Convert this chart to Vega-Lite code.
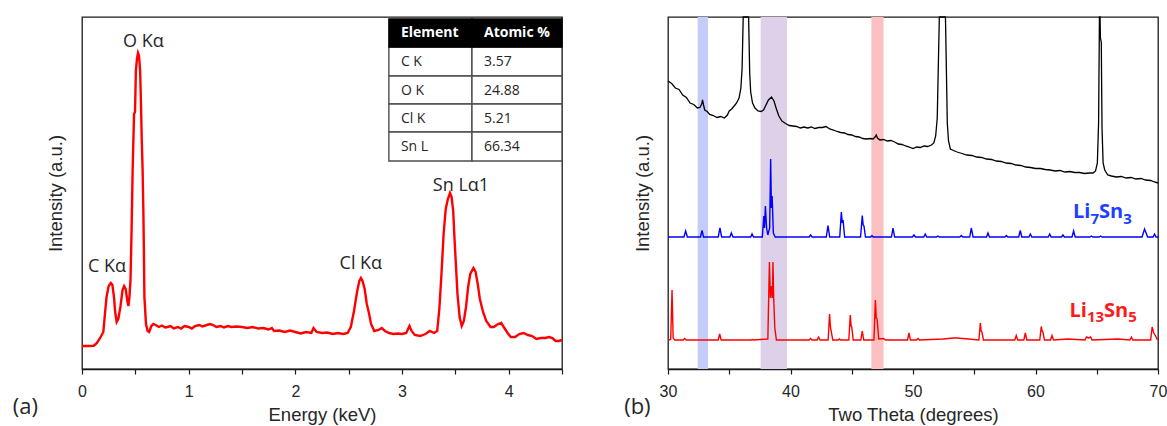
{
  "$schema": "https://vega.github.io/schema/vega-lite/v6.json",
  "autosize": {"type": "pad"},
  "padding": {"left": 12, "top": 13, "right": 0, "bottom": 0},
  "background": "white",
  "bounds": "flush",
  "spacing": 106,
  "config": {
    "view": {"stroke": "#1a1a1a", "strokeWidth": 1.3},
    "axis": {
      "labelFont": "Liberation Sans", "titleFont": "Liberation Sans",
      "labelFontSize": 16, "titleFontSize": 18.5, "titleFontWeight": "normal",
      "labelColor": "#262626", "titleColor": "#262626", "grid": false,
      "tickColor": "#1a1a1a", "domainColor": "#1a1a1a", "domainWidth": 1.3,
      "tickSize": 5, "tickWidth": 1.2
    }
  },
  "datasets": {
    "eds": [
      {"e":0,"i":23},{"e":0.05,"i":23},{"e":0.11,"i":23.3},{"e":0.14,"i":26},{"e":0.17,"i":31},{"e":0.2,"i":37},
      {"e":0.215,"i":55},{"e":0.23,"i":72},{"e":0.25,"i":83},{"e":0.27,"i":86},{"e":0.285,"i":84},{"e":0.3,"i":72},
      {"e":0.31,"i":58},{"e":0.325,"i":47},{"e":0.34,"i":50},{"e":0.36,"i":62},{"e":0.38,"i":79},{"e":0.395,"i":83},
      {"e":0.41,"i":80},{"e":0.425,"i":68},{"e":0.435,"i":63},{"e":0.445,"i":72},{"e":0.455,"i":90},{"e":0.465,"i":140},
      {"e":0.475,"i":200},{"e":0.488,"i":255},{"e":0.497,"i":257},{"e":0.505,"i":298},{"e":0.515,"i":310},{"e":0.525,"i":316},
      {"e":0.535,"i":313},{"e":0.545,"i":298},{"e":0.553,"i":265},{"e":0.56,"i":230},{"e":0.568,"i":200},{"e":0.575,"i":160},
      {"e":0.58,"i":120},{"e":0.585,"i":72},{"e":0.6,"i":45},{"e":0.615,"i":38},{"e":0.63,"i":37},{"e":0.65,"i":43},
      {"e":0.67,"i":45},{"e":0.69,"i":44},{"e":0.72,"i":42},{"e":0.75,"i":43.5},{"e":0.78,"i":41.5},{"e":0.8,"i":42},
      {"e":0.83,"i":43},{"e":0.86,"i":40.5},{"e":0.9,"i":42},{"e":0.93,"i":40.5},{"e":0.96,"i":43},{"e":1.0,"i":42},
      {"e":1.03,"i":40.5},{"e":1.06,"i":43},{"e":1.1,"i":44},{"e":1.13,"i":42.5},{"e":1.17,"i":44},{"e":1.2,"i":45},
      {"e":1.23,"i":44},{"e":1.26,"i":42},{"e":1.3,"i":43},{"e":1.33,"i":41.5},{"e":1.37,"i":43},{"e":1.4,"i":42},
      {"e":1.45,"i":42.5},{"e":1.5,"i":42},{"e":1.55,"i":41},{"e":1.6,"i":42},{"e":1.65,"i":40.5},{"e":1.7,"i":41},
      {"e":1.75,"i":39.5},{"e":1.78,"i":41},{"e":1.8,"i":38},{"e":1.85,"i":38.5},{"e":1.9,"i":37},{"e":1.95,"i":38.5},
      {"e":2.0,"i":37},{"e":2.05,"i":35.5},{"e":2.1,"i":37},{"e":2.15,"i":36},{"e":2.17,"i":41},{"e":2.2,"i":37},
      {"e":2.25,"i":36},{"e":2.3,"i":36.5},{"e":2.35,"i":35},{"e":2.4,"i":36},{"e":2.45,"i":35},{"e":2.49,"i":36},
      {"e":2.52,"i":42},{"e":2.55,"i":58},{"e":2.58,"i":78},{"e":2.6,"i":88},{"e":2.615,"i":91},{"e":2.63,"i":88},
      {"e":2.65,"i":80},{"e":2.67,"i":65},{"e":2.69,"i":56},{"e":2.71,"i":45},{"e":2.74,"i":38},{"e":2.78,"i":39},
      {"e":2.81,"i":41},{"e":2.84,"i":38},{"e":2.88,"i":36},{"e":2.92,"i":35},{"e":2.96,"i":35.5},{"e":3.0,"i":35},
      {"e":3.04,"i":36},{"e":3.07,"i":43},{"e":3.09,"i":38},{"e":3.12,"i":34},{"e":3.17,"i":33},{"e":3.22,"i":35},
      {"e":3.26,"i":38},{"e":3.3,"i":36},{"e":3.33,"i":38},{"e":3.35,"i":60},{"e":3.37,"i":95},{"e":3.39,"i":135},
      {"e":3.41,"i":160},{"e":3.43,"i":170},{"e":3.45,"i":176},{"e":3.465,"i":172},{"e":3.48,"i":158},{"e":3.49,"i":135},
      {"e":3.505,"i":105},{"e":3.52,"i":75},{"e":3.54,"i":52},{"e":3.56,"i":43},{"e":3.58,"i":48},{"e":3.6,"i":62},
      {"e":3.62,"i":82},{"e":3.64,"i":95},{"e":3.67,"i":101},{"e":3.69,"i":97},{"e":3.71,"i":85},{"e":3.73,"i":70},
      {"e":3.76,"i":57},{"e":3.79,"i":48},{"e":3.83,"i":42},{"e":3.86,"i":42},{"e":3.9,"i":45},{"e":3.93,"i":46},
      {"e":3.96,"i":41},{"e":3.99,"i":36},{"e":4.02,"i":32},{"e":4.06,"i":32},{"e":4.1,"i":35},{"e":4.14,"i":36},
      {"e":4.18,"i":34},{"e":4.22,"i":33},{"e":4.26,"i":30},{"e":4.3,"i":31},{"e":4.34,"i":31},{"e":4.38,"i":32},
      {"e":4.41,"i":31},{"e":4.44,"i":28},{"e":4.47,"i":28},{"e":4.5,"i":29}
    ],
    "edsLabels": [
      {"e":0.576,"i":322,"t":"O Kα"},
      {"e":0.235,"i":97,"t":"C Kα"},
      {"e":2.614,"i":100,"t":"Cl Kα"},
      {"e":3.553,"i":178,"t":"Sn Lα1"},
      {"e":-0.53,"i":-45,"t":"(a)"}
    ],
    "table": [
      {"e0":2.877,"e1":3.656,"i0":350,"i1":322,"t":"Element","head":true},
      {"e0":3.656,"e1":4.5,"i0":350,"i1":322,"t":"Atomic %","head":true},
      {"e0":2.877,"e1":3.656,"i0":322,"i1":293,"t":"C K","head":false},
      {"e0":3.656,"e1":4.5,"i0":322,"i1":293,"t":"3.57","head":false},
      {"e0":2.877,"e1":3.656,"i0":293,"i1":265,"t":"O K","head":false},
      {"e0":3.656,"e1":4.5,"i0":293,"i1":265,"t":"24.88","head":false},
      {"e0":2.877,"e1":3.656,"i0":265,"i1":237,"t":"Cl K","head":false},
      {"e0":3.656,"e1":4.5,"i0":265,"i1":237,"t":"5.21","head":false},
      {"e0":2.877,"e1":3.656,"i0":237,"i1":208,"t":"Sn L","head":false},
      {"e0":3.656,"e1":4.5,"i0":237,"i1":208,"t":"66.34","head":false}
    ],
    "bands": [
      {"t0":32.42,"t1":33.27,"phase":"Li7Sn3"},
      {"t0":37.56,"t1":39.71,"phase":"both"},
      {"t0":46.6,"t1":47.6,"phase":"Li13Sn5"}
    ],
    "obs": [
      {"x":30.0,"i":287},{"x":30.3,"i":284.5},{"x":30.6,"i":280},{"x":30.9,"i":278.5},{"x":31.2,"i":273},{"x":31.5,"i":270.5},
      {"x":31.8,"i":265},{"x":32.1,"i":263.5},{"x":32.4,"i":260},{"x":32.6,"i":260.5},{"x":32.75,"i":264},{"x":32.82,"i":268},
      {"x":32.9,"i":263},{"x":33.0,"i":258},{"x":33.2,"i":256.5},{"x":33.4,"i":253.5},{"x":33.7,"i":252.5},{"x":34.0,"i":250.5},
      {"x":34.3,"i":251.5},{"x":34.6,"i":250},{"x":34.85,"i":253},{"x":35.0,"i":257},{"x":35.2,"i":259},{"x":35.4,"i":262},
      {"x":35.6,"i":265},{"x":35.8,"i":270},{"x":35.95,"i":280},{"x":36.05,"i":300},{"x":36.14,"i":351},{"x":36.58,"i":351},
      {"x":36.67,"i":295},{"x":36.75,"i":276},{"x":36.9,"i":265},{"x":37.1,"i":260},{"x":37.35,"i":257},
      {"x":37.6,"i":256.5},{"x":37.8,"i":258},{"x":38.0,"i":263},{"x":38.2,"i":268},{"x":38.45,"i":271},{"x":38.65,"i":267},
      {"x":38.85,"i":259},{"x":39.05,"i":252},{"x":39.3,"i":247},{"x":39.6,"i":244.5},{"x":39.9,"i":242.5},{"x":40.2,"i":242},
      {"x":40.5,"i":241.5},{"x":40.8,"i":240},{"x":41.1,"i":241},{"x":41.4,"i":240},{"x":41.7,"i":241},{"x":42.0,"i":239.5},
      {"x":42.3,"i":240.5},{"x":42.6,"i":240.5},{"x":42.9,"i":241.5},{"x":43.2,"i":239},{"x":43.5,"i":238},{"x":43.8,"i":236.5},
      {"x":44.1,"i":235.5},{"x":44.4,"i":235},{"x":44.7,"i":233.5},{"x":45.0,"i":233},{"x":45.3,"i":231.5},{"x":45.6,"i":231},
      {"x":45.9,"i":229.5},{"x":46.2,"i":229},{"x":46.5,"i":229.5},{"x":46.75,"i":229},{"x":46.9,"i":231},{"x":47.0,"i":233},
      {"x":47.1,"i":230},{"x":47.3,"i":228},{"x":47.6,"i":228.5},{"x":47.9,"i":227},{"x":48.2,"i":227.5},{"x":48.5,"i":226},
      {"x":48.8,"i":224},{"x":49.1,"i":223.5},{"x":49.4,"i":222},{"x":49.7,"i":221},{"x":50.0,"i":219.5},{"x":50.3,"i":221},
      {"x":50.6,"i":220.5},{"x":50.9,"i":222},{"x":51.2,"i":221.5},{"x":51.5,"i":223},{"x":51.7,"i":225},{"x":51.85,"i":232},
      {"x":51.98,"i":250},{"x":52.15,"i":351},{"x":52.65,"i":351},{"x":52.8,"i":245},{"x":52.9,"i":227},
      {"x":53.05,"i":219},{"x":53.3,"i":217.5},{"x":53.6,"i":216},{"x":54.0,"i":214.5},{"x":54.4,"i":213},{"x":54.8,"i":212.5},
      {"x":55.2,"i":211},{"x":55.6,"i":210.5},{"x":56.0,"i":209},{"x":56.4,"i":208.5},{"x":56.8,"i":207},{"x":57.2,"i":206.5},
      {"x":57.6,"i":205},{"x":58.0,"i":204.5},{"x":58.4,"i":203},{"x":58.8,"i":202.5},{"x":59.2,"i":201},{"x":59.6,"i":200.5},
      {"x":60.0,"i":199.5},{"x":60.4,"i":199.5},{"x":60.8,"i":198.5},{"x":61.2,"i":198},{"x":61.6,"i":197},{"x":62.0,"i":197.5},
      {"x":62.4,"i":196},{"x":62.8,"i":196.5},{"x":63.2,"i":195.5},{"x":63.6,"i":195.5},{"x":64.0,"i":194.5},{"x":64.4,"i":195},
      {"x":64.7,"i":195},{"x":64.9,"i":197},{"x":65.05,"i":205},{"x":65.15,"i":245},{"x":65.22,"i":351},{"x":65.27,"i":351},
      {"x":65.3,"i":330},{"x":65.37,"i":326},{"x":65.43,"i":240},{"x":65.52,"i":205},{"x":65.65,"i":198},{"x":65.9,"i":193},{"x":66.2,"i":192},
      {"x":66.6,"i":191},{"x":67.0,"i":191.5},{"x":67.4,"i":190},{"x":67.8,"i":190.5},{"x":68.2,"i":189},{"x":68.6,"i":189.5},
      {"x":69.0,"i":188},{"x":69.4,"i":187.5},{"x":69.7,"i":186},{"x":70.0,"i":185}
    ],
    "li7": [
      {"x":30.0,"i":131},{"x":31.3,"i":131},{"x":31.44,"i":137},{"x":31.58,"i":131},{"x":32.65,"i":131},{"x":32.78,"i":137.5},
      {"x":32.9,"i":131},{"x":34.1,"i":131},{"x":34.24,"i":140},{"x":34.38,"i":131},{"x":35.05,"i":131},{"x":35.17,"i":135},
      {"x":35.3,"i":131},{"x":36.75,"i":131},{"x":36.86,"i":134},{"x":36.98,"i":131},{"x":37.7,"i":131},{"x":37.82,"i":152},
      {"x":37.88,"i":140},{"x":37.95,"i":162},{"x":38.05,"i":140},{"x":38.15,"i":133},{"x":38.3,"i":140},{"x":38.38,"i":209},
      {"x":38.44,"i":160},{"x":38.5,"i":172},{"x":38.6,"i":135},{"x":38.75,"i":131},{"x":41.52,"i":131},{"x":41.64,"i":133},
      {"x":41.76,"i":131},{"x":42.92,"i":131},{"x":43.06,"i":142.5},{"x":43.2,"i":131},{"x":44.02,"i":131},{"x":44.15,"i":156},
      {"x":44.22,"i":146},{"x":44.3,"i":147},{"x":44.42,"i":131},{"x":45.72,"i":131},{"x":45.86,"i":152.5},{"x":45.93,"i":143},
      {"x":46.0,"i":142},{"x":46.12,"i":131},{"x":46.55,"i":131},{"x":46.65,"i":132.5},{"x":46.75,"i":131},{"x":48.24,"i":131},
      {"x":48.37,"i":140},{"x":48.5,"i":131},{"x":49.95,"i":131},{"x":50.08,"i":133},{"x":50.2,"i":131},{"x":50.88,"i":131},
      {"x":51.0,"i":134},{"x":51.12,"i":131},{"x":51.92,"i":131},{"x":52.04,"i":132},{"x":52.16,"i":131},{"x":53.82,"i":131},
      {"x":53.94,"i":132.5},{"x":54.06,"i":131},{"x":54.63,"i":131},{"x":54.76,"i":140},{"x":54.84,"i":135},{"x":54.9,"i":131},
      {"x":56.0,"i":131},{"x":56.12,"i":135},{"x":56.24,"i":131},{"x":57.5,"i":131},{"x":57.62,"i":132.5},{"x":57.74,"i":131},
      {"x":58.63,"i":131},{"x":58.76,"i":137.5},{"x":58.88,"i":131},{"x":59.46,"i":131},{"x":59.58,"i":134},{"x":59.7,"i":131},
      {"x":61.04,"i":131},{"x":61.16,"i":134},{"x":61.28,"i":131},{"x":62.12,"i":131},{"x":62.24,"i":133},{"x":62.36,"i":131},
      {"x":62.98,"i":131},{"x":63.11,"i":137},{"x":63.24,"i":131},{"x":64.44,"i":131},{"x":64.56,"i":132},{"x":64.68,"i":131},
      {"x":65.2,"i":131},{"x":65.32,"i":132},{"x":65.44,"i":131},{"x":68.7,"i":131},{"x":68.9,"i":139},{"x":69.0,"i":136},
      {"x":69.15,"i":131},{"x":69.6,"i":131},{"x":69.72,"i":134},{"x":69.84,"i":131},{"x":70.0,"i":131}
    ],
    "li13": [
      {"x":30.0,"i":28},{"x":30.22,"i":28.5},{"x":30.33,"i":78},{"x":30.42,"i":30},{"x":30.55,"i":28},{"x":31.25,"i":28},
      {"x":31.36,"i":29.5},{"x":31.48,"i":28},{"x":34.1,"i":28},{"x":34.22,"i":34},{"x":34.34,"i":28},{"x":36.8,"i":28},
      {"x":36.9,"i":28.5},{"x":37.0,"i":28},{"x":38.15,"i":29},{"x":38.28,"i":106},{"x":38.36,"i":70},{"x":38.44,"i":82},
      {"x":38.52,"i":70},{"x":38.57,"i":106},{"x":38.63,"i":69},{"x":38.72,"i":40},{"x":38.85,"i":28},{"x":41.52,"i":28},
      {"x":41.64,"i":29.5},{"x":41.76,"i":28},{"x":42.17,"i":28},{"x":42.29,"i":31},{"x":42.41,"i":28},{"x":43.07,"i":28},
      {"x":43.19,"i":54},{"x":43.27,"i":40},{"x":43.32,"i":37},{"x":43.45,"i":28},{"x":43.9,"i":28},{"x":44.0,"i":29},
      {"x":44.1,"i":28},{"x":44.76,"i":28},{"x":44.88,"i":53},{"x":44.95,"i":42},{"x":45.0,"i":41},{"x":45.12,"i":28},
      {"x":45.74,"i":28},{"x":45.86,"i":37},{"x":45.98,"i":28},{"x":46.81,"i":28},{"x":46.93,"i":68},{"x":47.0,"i":50},
      {"x":47.07,"i":49},{"x":47.2,"i":29},{"x":47.6,"i":29.5},{"x":47.75,"i":28},{"x":49.55,"i":28},{"x":49.67,"i":35},
      {"x":49.79,"i":28},{"x":50.29,"i":28},{"x":50.41,"i":29.5},{"x":50.53,"i":28},{"x":52.45,"i":29},{"x":53.34,"i":30},
      {"x":53.6,"i":30},{"x":55.38,"i":28},{"x":55.5,"i":45},{"x":55.56,"i":37},{"x":55.63,"i":36},{"x":55.75,"i":28},
      {"x":58.31,"i":28},{"x":58.43,"i":32.5},{"x":58.55,"i":28},{"x":59.05,"i":28},{"x":59.17,"i":35},{"x":59.29,"i":28},
      {"x":60.35,"i":28},{"x":60.47,"i":41.5},{"x":60.54,"i":37},{"x":60.61,"i":36},{"x":60.73,"i":28},{"x":61.23,"i":28},
      {"x":61.35,"i":32.5},{"x":61.47,"i":28},{"x":62.63,"i":29},{"x":64.04,"i":28},{"x":64.16,"i":31},{"x":64.33,"i":30},
      {"x":64.5,"i":31},{"x":64.62,"i":28},{"x":66.75,"i":29},{"x":67.71,"i":28},{"x":67.83,"i":31},{"x":67.95,"i":28},
      {"x":69.4,"i":28},{"x":69.52,"i":41},{"x":69.66,"i":35},{"x":69.8,"i":32},{"x":69.92,"i":29},{"x":70.0,"i":29}
    ],
    "phaseLabels": [
      {"x":63.06,"i":149.7,"t":"Li","part":"main","phase":"Li7Sn3"},
      {"x":64.48,"i":144,"t":"7","part":"sub","phase":"Li7Sn3"},
      {"x":65.18,"i":149.7,"t":"Sn","part":"main","phase":"Li7Sn3"},
      {"x":67.16,"i":144,"t":"3","part":"sub","phase":"Li7Sn3"},
      {"x":62.78,"i":50.7,"t":"Li","part":"main","phase":"Li13Sn5"},
      {"x":64.2,"i":45.7,"t":"13","part":"sub","phase":"Li13Sn5"},
      {"x":65.6,"i":50.7,"t":"Sn","part":"main","phase":"Li13Sn5"},
      {"x":67.58,"i":45.7,"t":"5","part":"sub","phase":"Li13Sn5"}
    ],
    "tagB": [{"x":27.5,"i":-46,"t":"(b)"}]
  },
  "hconcat": [
    {
      "width": 480,
      "height": 352,
      "layer": [
        {
          "data": {"name": "eds"},
          "mark": {"type": "line", "color": "#ff0000", "strokeWidth": 2.4},
          "encoding": {
            "x": {"field": "e", "type": "quantitative", "title": "Energy (keV)",
                  "scale": {"domain": [0, 4.5], "nice": false, "zero": false},
                  "axis": {"values": [0,0.5,1,1.5,2,2.5,3,3.5,4,4.5],
                           "labelExpr": "datum.value % 1 === 0 ? '' + datum.value : ''",
                           "labelFlush": false, "labelOverlap": false, "labelPadding": 9.5, "titlePadding": 5.5}},
            "y": {"field": "i", "type": "quantitative", "title": "Intensity (a.u.)",
                  "scale": {"domain": [0, 352], "nice": false, "zero": false},
                  "axis": {"ticks": false, "labels": false, "domain": false, "titlePadding": 17}}
          }
        },
        {
          "data": {"name": "edsLabels"},
          "mark": {"type": "text", "font": "Open Sans", "fontSize": 18, "color": "#262626", "align": "center", "baseline": "alphabetic"},
          "encoding": {
            "x": {"field": "e", "type": "quantitative", "title": "Energy (keV)"},
            "y": {"field": "i", "type": "quantitative", "title": "Intensity (a.u.)"},
            "text": {"field": "t"},
            "size": {"condition": {"test": "datum.t === '(a)'", "value": 22}, "value": 18}
          }
        },
        {
          "data": {"name": "table"},
          "transform": [{"filter": "!datum.head"}],
          "mark": {"type": "rect", "fill": "white", "stroke": "#4d4d4d", "strokeWidth": 1.4},
          "encoding": {
            "x": {"field": "e0", "type": "quantitative", "title": "Energy (keV)"},
            "x2": {"field": "e1"},
            "y": {"field": "i0", "type": "quantitative", "title": "Intensity (a.u.)"},
            "y2": {"field": "i1"}
          }
        },
        {
          "data": {"name": "table"},
          "transform": [{"filter": "datum.head"}],
          "mark": {"type": "rect", "fill": "black", "stroke": "black", "strokeWidth": 1.4},
          "encoding": {
            "x": {"field": "e0", "type": "quantitative", "title": "Energy (keV)"},
            "x2": {"field": "e1"},
            "y": {"field": "i0", "type": "quantitative", "title": "Intensity (a.u.)"},
            "y2": {"field": "i1"}
          }
        },
        {
          "data": {"name": "table"},
          "transform": [{"filter": "!datum.head"}],
          "mark": {"type": "text", "font": "Open Sans", "fontSize": 14, "color": "#262626", "align": "left", "baseline": "middle", "dx": 12, "dy": 14.5},
          "encoding": {
            "x": {"field": "e0", "type": "quantitative", "title": "Energy (keV)"},
            "y": {"field": "i0", "type": "quantitative", "title": "Intensity (a.u.)"},
            "text": {"field": "t"}
          }
        },
        {
          "data": {"name": "table"},
          "transform": [{"filter": "datum.head"}],
          "mark": {"type": "text", "font": "Open Sans", "fontSize": 14, "fontWeight": "bold", "color": "white", "align": "left", "baseline": "middle", "dx": 12, "dy": 14},
          "encoding": {
            "x": {"field": "e0", "type": "quantitative", "title": "Energy (keV)"},
            "y": {"field": "i0", "type": "quantitative", "title": "Intensity (a.u.)"},
            "text": {"field": "t"}
          }
        }
      ]
    },
    {
      "width": 490,
      "height": 352,
      "layer": [
        {
          "data": {"name": "bands"},
          "mark": {"type": "rect"},
          "encoding": {
            "x": {"field": "t0", "type": "quantitative", "title": "Two Theta (degrees)"},
            "x2": {"field": "t1"},
            "color": {"field": "phase", "type": "nominal", "legend": null,
                      "scale": {"domain": ["Li7Sn3", "both", "Li13Sn5"], "range": ["#c4ccfa", "#dcd1e8", "#fdc0c0"]}}
          }
        },
        {
          "data": {"name": "obs"},
          "mark": {"type": "line", "color": "#000000", "strokeWidth": 1.3},
          "encoding": {
            "x": {"field": "x", "type": "quantitative", "title": "Two Theta (degrees)",
                  "scale": {"domain": [30, 70], "nice": false, "zero": false},
                  "axis": {"values": [30,35,40,45,50,55,60,65,70],
                           "labelExpr": "datum.value % 10 === 0 ? '' + datum.value : ''",
                           "labelFlush": false, "labelOverlap": false, "labelPadding": 9.5, "titlePadding": 5.5}},
            "y": {"field": "i", "type": "quantitative", "title": "Intensity (a.u.)",
                  "scale": {"domain": [-1, 351], "nice": false, "zero": false},
                  "axis": {"ticks": false, "labels": false, "domain": false, "titlePadding": 16}}
          }
        },
        {
          "data": {"name": "li7"},
          "mark": {"type": "line", "color": "#0000ff", "strokeWidth": 1.4},
          "encoding": {
            "x": {"field": "x", "type": "quantitative", "title": "Two Theta (degrees)"},
            "y": {"field": "i", "type": "quantitative", "title": "Intensity (a.u.)"}
          }
        },
        {
          "data": {"name": "li13"},
          "mark": {"type": "line", "color": "#ff0000", "strokeWidth": 1.4},
          "encoding": {
            "x": {"field": "x", "type": "quantitative", "title": "Two Theta (degrees)"},
            "y": {"field": "i", "type": "quantitative", "title": "Intensity (a.u.)"}
          }
        },
        {
          "data": {"name": "phaseLabels"},
          "transform": [{"filter": "datum.part === 'main'"}],
          "mark": {"type": "text", "font": "Open Sans", "fontSize": 20, "fontWeight": "bold", "align": "left", "baseline": "alphabetic"},
          "encoding": {
            "x": {"field": "x", "type": "quantitative", "title": "Two Theta (degrees)"},
            "y": {"field": "i", "type": "quantitative", "title": "Intensity (a.u.)"},
            "text": {"field": "t"},
            "fill": {"field": "phase", "type": "nominal", "legend": null,
                     "scale": {"domain": ["Li7Sn3", "Li13Sn5"], "range": ["#2040ff", "#ff1a1a"]}}
          }
        },
        {
          "data": {"name": "phaseLabels"},
          "transform": [{"filter": "datum.part === 'sub'"}],
          "mark": {"type": "text", "font": "Open Sans", "fontSize": 15, "fontWeight": "bold", "align": "left", "baseline": "alphabetic"},
          "encoding": {
            "x": {"field": "x", "type": "quantitative", "title": "Two Theta (degrees)"},
            "y": {"field": "i", "type": "quantitative", "title": "Intensity (a.u.)"},
            "text": {"field": "t"},
            "fill": {"field": "phase", "type": "nominal", "legend": null,
                     "scale": {"domain": ["Li7Sn3", "Li13Sn5"], "range": ["#2040ff", "#ff1a1a"]}}
          }
        },
        {
          "data": {"name": "tagB"},
          "mark": {"type": "text", "font": "Open Sans", "fontSize": 22, "color": "#262626", "align": "center", "baseline": "alphabetic"},
          "encoding": {
            "x": {"field": "x", "type": "quantitative", "title": "Two Theta (degrees)"},
            "y": {"field": "i", "type": "quantitative", "title": "Intensity (a.u.)"},
            "text": {"field": "t"}
          }
        }
      ]
    }
  ]
}
